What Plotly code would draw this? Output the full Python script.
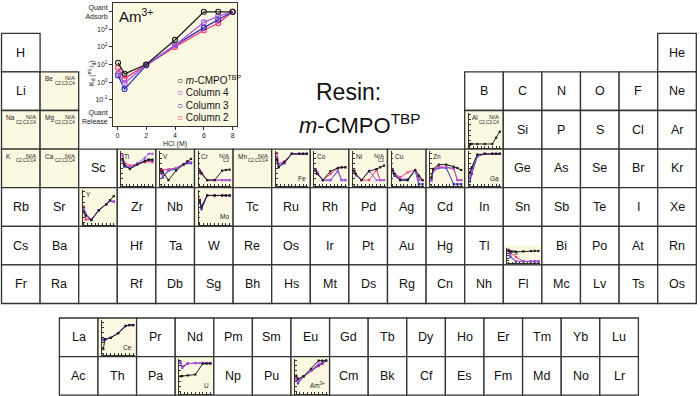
import plotly.graph_objects as go

W, H = 700, 396
FONT = "Liberation Sans, Arial, sans-serif"
BEIGE = "#fcf9e3"
EDGE = "#333333"

# periodic table, "" = no cell, "_" = empty framed cell
PERIODS = [
    ["H"] + [""] * 16 + ["He"],
    ["Li", "Be"] + [""] * 10 + ["B", "C", "N", "O", "F", "Ne"],
    ["Na", "Mg"] + [""] * 10 + ["Al", "Si", "P", "S", "Cl", "Ar"],
    ["K", "Ca", "Sc", "Ti", "V", "Cr", "Mn", "Fe", "Co", "Ni", "Cu", "Zn", "Ga", "Ge", "As", "Se", "Br", "Kr"],
    ["Rb", "Sr", "Y", "Zr", "Nb", "Mo", "Tc", "Ru", "Rh", "Pd", "Ag", "Cd", "In", "Sn", "Sb", "Te", "I", "Xe"],
    ["Cs", "Ba", "_", "Hf", "Ta", "W", "Re", "Os", "Ir", "Pt", "Au", "Hg", "Tl", "Pb", "Bi", "Po", "At", "Rn"],
    ["Fr", "Ra", "_", "Rf", "Db", "Sg", "Bh", "Hs", "Mt", "Ds", "Rg", "Cn", "Nh", "Fl", "Mc", "Lv", "Ts", "Os"],
]
LANTHANIDES = ["La", "Ce", "Pr", "Nd", "Pm", "Sm", "Eu", "Gd", "Tb", "Dy", "Ho", "Er", "Tm", "Yb", "Lu"]
ACTINIDES = ["Ac", "Th", "Pa", "U", "Np", "Pu", "Am", "Cm", "Bk", "Cf", "Es", "Fm", "Md", "No", "Lr"]

# HCl concentration (M)
HCL = [0.05, 0.5, 2, 4, 6, 7, 8]

# log10 Kd (mL/g); 4 = quantitative adsorption, -2 = quantitative release
AM = {"cmpo": [1.1, 0.47, 1.0, 2.4, 4.0, 4.0, 4.0],
      "c4": [0.47, -0.07, 0.98, 2.1, 3.4, 3.75, 4.0],
      "c3": [0.37, -0.4, 0.95, 2.1, 3.1, 3.55, 4.0],
      "c2": [0.8, 0.2, 0.98, 2.0, 2.95, 3.35, 4.0]}
AL = {"cmpo": [-1.7, -1.7, -1.7, -1.7, -1.7, -0.5, 0.7]}
TI = {"cmpo": [2.89, 1.78, 0.93, 1.78, 2.43, 2.76, 2.76],
      "c4": [3.54, 1.91, 1.26, 2.04, 3.09, 3.87, 3.87],
      "c3": [2.57, 1.39, 1.13, 1.91, 2.57, 2.7, 2.57],
      "c2": [3.54, 2.24, 1.59, 1.91, 2.24, 2.43, 2.24]}
V = {"cmpo": [0.61, 0.28, -1.22, 0.61, 1.78, 2.43, 2.89],
     "c4": [0.09, -0.37, 0.74, 1.13, 1.78, 2.24, 2.24],
     "c3": [0.48, -0.7, 0.61, 0.93, 1.78, 2.04, 2.04],
     "c2": [0.93, 0.74, 0.87, 1.13, 1.91, 2.24, 2.24]}
CR = {"cmpo": [0.48, 0.09, -1.22, -1.22, 0.61, 0.74, 0.8],
      "c4": [0.74, -0.04, -1.22, -1.22, -1.22, -1.22, -1.22],
      "c2": [0.61, 0.28, -1.22, -1.22, -1.22, -1.22, -1.22]}
FE = {"cmpo": [2.89, 1.26, 2.24, 3.87, 3.87, 3.87, 3.87],
      "c4": [3.22, 1.78, 2.24, 3.87, 3.87, 3.87, 3.87],
      "c3": [2.57, 1.39, 2.04, 3.87, 3.87, 3.87, 3.87],
      "c2": [4.0, 1.91, 2.43, 3.87, 3.87, 3.87, 3.87]}
CO = {"cmpo": [0.61, -0.04, -1.22, 0.48, 1.13, 1.26, 1.26],
      "c4": [0.74, 0.28, -1.22, -1.22, 0.48, -1.22, -1.22],
      "c3": [0.61, 0.0, -1.22, -1.22, 0.61, -1.22, -1.22],
      "c2": [0.93, 0.2, -1.22, 0.0, 1.13, 1.26, 1.26]}
NI = {"cmpo": [0.61, -0.04, -1.22, 0.48, 0.93, 1.26, 1.59],
      "c4": [0.28, -0.37, -1.22, 0.61, -1.22, -1.22, -1.22],
      "c2": [0.61, -0.04, -1.22, -1.22, 0.74, -1.22, -1.22]}
CU = {"cmpo": [0.61, -0.04, -1.22, -1.22, 0.74, -0.37, -1.22],
      "c4": [0.74, -0.17, -1.02, -1.02, 0.61, -1.22, -1.22],
      "c3": [0.61, -0.37, -1.22, -1.22, 0.61, -2.0, -2.0],
      "c2": [0.93, 0.09, -0.7, 0.28, 0.74, -0.7, -1.22]}
ZN = {"cmpo": [-0.7, 0.93, 1.78, 1.78, 1.39, 1.13, 0.74],
      "c4": [-1.22, 0.61, 1.26, 1.26, 1.13, -1.22, -1.22],
      "c3": [-1.3, 0.48, 1.13, 1.13, -2.0, -2.0, -2.0],
      "c2": [-1.02, 0.74, 1.39, 1.26, 0.93, -1.22, -1.22]}
GA = {"cmpo": [0.28, 1.26, 3.74, 3.87, 3.87, 3.87, 3.87],
      "c4": [-0.7, 0.61, 3.54, 3.87, 3.87, 3.87, 3.87],
      "c3": [-1.48, -0.04, 3.35, 3.87, 3.87, 3.87, 3.87],
      "c2": [-0.37, 0.93, 3.61, 3.87, 3.87, 3.87, 3.87]}
Y = {"cmpo": [0.05, -0.61, -1.5, 0.42, 1.6, 2.38, 3.16],
     "c4": [0.71, -0.19, -1.39, 0.42, 1.6, 2.2, 2.08],
     "c3": [0.53, -0.31, -1.39, 0.42, 1.6, 2.2, 2.08],
     "c2": [1.13, -1.39, -1.39, 0.42, 1.6, 2.2, 2.08]}
MO = {"cmpo": [2.32, 1.0, 3.28, 3.28, 3.28, 3.28, 3.28],
      "c4": [2.08, 1.19, 3.28, 3.28, 3.28, 3.28, 3.28],
      "c3": [1.9, 0.6, 3.28, 3.28, 3.28, 3.28, 3.28],
      "c2": [2.5, 1.1, 3.28, 3.28, 3.28, 3.28, 3.28]}
PB = {"cmpo": [3.5, 3.0, 2.8, 3.0, 3.2, 3.2, 3.2],
      "c4": [3.6, 1.0, -1.5, -1.5, -1.5, -1.5, -1.5],
      "c3": [3.4, 0.5, -1.5, -1.5, -1.5, -1.5, -1.5],
      "c2": [3.8, 2.5, 0.5, -1.5, -1.5, -1.5, -1.5]}
CE = {"cmpo": [-1.23, 0.69, 0.93, 1.86, 3.24, 3.42, 3.42],
      "c4": [0.8, 0.69, 0.93, 1.86, 3.24, 3.42, 3.42],
      "c3": [0.5, 0.65, 0.93, 1.86, 3.24, 3.42, 3.42],
      "c2": [0.69, 0.63, 0.93, 1.86, 3.24, 3.42, 3.42]}
U = {"cmpo": [0.97, 1.03, 1.14, 1.31, 3.43, 3.43, 3.43],
     "c4": [3.83, 2.57, 3.43, 3.54, 3.54, 3.54, 3.54],
     "c3": [3.6, 2.7, 3.43, 3.54, 3.54, 3.54, 3.54],
     "c2": [3.7, 2.86, 3.48, 3.54, 3.54, 3.54, 3.54]}

MINIS = {"Al": AL, "Ti": TI, "V": V, "Cr": CR, "Fe": FE, "Co": CO, "Ni": NI, "Cu": CU,
         "Zn": ZN, "Ga": GA, "Y": Y, "Mo": MO, "Pb": PB, "Ce": CE, "U": U, "Am": AM}
NA_NOTES = {"Be": "C2,C3,C4", "Na": "C2,C3,C4", "Mg": "C2,C3,C4", "K": "C2,C3,C4",
            "Ca": "C2,C3,C4", "Mn": "C2,C3,C4", "Al": "C2,C3,C4", "Cr": "C3", "Ni": "C3"}
LABEL_BOTTOM = ["Fe", "Ga", "Mo", "Ce", "U", "Am"]

SERIES_NAMES = {"cmpo": "<i>m</i>-CMPO<sup>TBP</sup>", "c4": "Column 4", "c3": "Column 3", "c2": "Column 2"}
COLORS = {"cmpo": "#1c1c1c", "c4": "#a65ae0", "c3": "#2e2eb8", "c2": "#f2337a"}

# grid geometry (px)
X0, CW = 1.5, 38.6
Y0, CH = 33.3, 38.6
LY0 = 318.0
PB_DROP = 22  # the Pb inset only fills the lower part of its cell


def px(x):
    return x / W


def py(y):
    return 1 - y / H


def note(text, x, y, size, **kw):
    d = dict(text=text, x=px(x), y=py(y), xref="paper", yref="paper", showarrow=False,
             xanchor="center", yanchor="middle",
             font=dict(size=size, family=FONT, color=kw.pop("color", "#222")))
    d.update(kw)
    return d


def rect(x0, y0, x1, y1, fill, width):
    return dict(type="rect", xref="paper", yref="paper", x0=px(x0), x1=px(x1), y0=py(y1), y1=py(y0),
                fillcolor=fill, line=dict(color=EDGE, width=width), layer="below")


def cell_boxes():
    boxes = []
    for r, row in enumerate(PERIODS):
        for c, sym in enumerate(row):
            if sym:
                boxes.append((sym, X0 + c * CW, Y0 + r * CH))
    for r, row in enumerate([LANTHANIDES, ACTINIDES]):
        for i, sym in enumerate(row):
            boxes.append((sym, X0 + (1.5 + i) * CW, LY0 + r * CH))
    return boxes


fig = go.Figure()
shapes, annotations, axes = [], [], {}
boxes = cell_boxes()
special = set(MINIS) | set(NA_NOTES)
n_axis = [0]


def new_axes(x0, y0, x1, y1, big=False):
    n_axis[0] += 1
    n = n_axis[0]
    suf = "" if n == 1 else str(n)
    common = dict(showgrid=False, zeroline=False, showline=True, linecolor=EDGE,
                  tickcolor=EDGE, fixedrange=True)
    tf = dict(size=7, family=FONT, color="#222")
    if big:
        axes["xaxis" + suf] = dict(domain=[px(x0), px(x1)], anchor="y" + suf, range=[-0.3, 8.3],
                                   tickvals=[0, 2, 4, 6, 8], ticks="outside", ticklen=3, linewidth=1,
                                   mirror=True, tickfont=tf,
                                   title=dict(text="HCl (M)", font=tf, standoff=2), **common)
        axes["yaxis" + suf] = dict(domain=[py(y1), py(y0)], anchor="x" + suf, range=[-2.5, 4.5],
                                   tickvals=[-2, -1, 0, 1, 2, 3, 4],
                                   ticktext=["Quant<br>Release", "10<sup>-1</sup>", "10<sup>0</sup>",
                                             "10<sup>1</sup>", "10<sup>2</sup>", "10<sup>3</sup>",
                                             "Quant<br>Adsorb"],
                                   ticks="outside", ticklen=3, linewidth=1, mirror=True,
                                   tickfont=tf, **common)
    else:
        axes["xaxis" + suf] = dict(domain=[px(x0), px(x1)], anchor="y" + suf, range=[-0.3, 8.4],
                                   dtick=1, ticks="inside", ticklen=2, tickwidth=0.6, linewidth=0.8,
                                   showticklabels=False, **common)
        axes["yaxis" + suf] = dict(domain=[py(y1), py(y0)], anchor="x" + suf, range=[-2.4, 4.4],
                                   dtick=1, ticks="inside", ticklen=2, tickwidth=0.6, linewidth=0.8,
                                   showticklabels=False, **common)
    return "x" + suf, "y" + suf


def add_series(data, xr, yr, big=False):
    for key in ["c2", "c3", "c4", "cmpo"]:
        if key not in data:
            continue
        fig.add_trace(go.Scatter(
            x=HCL, y=data[key], xaxis=xr, yaxis=yr, mode="lines+markers",
            line=dict(color=COLORS[key], width=1.3 if big else 1.0),
            marker=dict(symbol="circle-open", size=5, line=dict(width=1.1, color=COLORS[key]))
            if big else dict(symbol="square", size=2.2, color=COLORS[key]),
            showlegend=False, hoverinfo="skip", cliponaxis=False))


# big Am(III) panel
BX0, BY0, BX1, BY1 = 113, 3, 237, 126
shapes.append(dict(type="rect", xref="paper", yref="paper", x0=px(BX0), x1=px(BX1), y0=py(BY1), y1=py(BY0),
                   fillcolor=BEIGE, line=dict(width=0), layer="below"))
xr, yr = new_axes(BX0, BY0, BX1, BY1, big=True)
add_series(AM, xr, yr, big=True)
annotations.append(note("Am<sup>3+</sup>", BX0 + 4, BY0 + 1, 15, color="#111",
                        xanchor="left", yanchor="top"))
annotations.append(note("K<sub>d</sub> (<sup>mL</sup>/<sub>g</sub>)", 91, 73, 7, textangle=-90))
for i, key in enumerate(["cmpo", "c4", "c3", "c2"]):
    annotations.append(note(f'<span style="color:{COLORS[key]}">○</span> ' + SERIES_NAMES[key],
                            175, 80 + i * 12.5, 10, color="#111", xanchor="left"))

# table cells
for sym, x0, y0 in boxes:
    x1, y1 = x0 + CW, y0 + CH
    fill = BEIGE if sym in special and sym != "Pb" else "white"
    shapes.append(rect(x0, y0, x1, y1, fill, 1.3))
    if sym == "_":
        continue
    if sym not in special:
        annotations.append(note(sym, x0 + CW / 2, y0 + CH / 2, 12.5, color="#111"))
        continue
    label = "Am<sup>3+</sup>" if sym == "Am" else sym
    top = y0
    if sym in MINIS:
        ptop = y0 + 2
        if sym == "Pb":
            top = y0 + PB_DROP - 3
            ptop = y0 + PB_DROP
            shapes.append(rect(x0 + 1, top, x1 - 1, y1 - 0.7, BEIGE, 0))
        xr, yr = new_axes(x0 + 4, ptop, x1 - 2, y1 - 1.5)
        add_series(MINIS[sym], xr, yr)
    if sym in LABEL_BOTTOM:
        annotations.append(note(label, x1 - 2.5, y1 - 4, 6.5, xanchor="right", yanchor="bottom"))
    else:
        lx = x0 + (5 if sym in MINIS else 2.5)
        annotations.append(note(label, lx, top + 1.5, 6.5, xanchor="left", yanchor="top"))
    if sym in NA_NOTES:
        annotations.append(note("N/A", x1 - 2, y0 + 1.5, 6, xanchor="right", yanchor="top"))
        annotations.append(note(NA_NOTES[sym], x1 - 2, y0 + 7, 4.5, xanchor="right", yanchor="top"))

# title
annotations.append(note("Resin:", 348, 92, 23, color="#111"))
annotations.append(note("<i>m</i>-CMPO<sup>TBP</sup>", 360, 124, 22, color="#111"))

fig.update_layout(width=W, height=H, autosize=False, margin=dict(l=0, r=0, t=0, b=0),
                  paper_bgcolor="white", plot_bgcolor="rgba(0,0,0,0)", showlegend=False,
                  shapes=shapes, annotations=annotations, **axes)
# drop the browser's default page margin so the figure sits at the window's corner
fig.write_html("out.html", config={"displayModeBar": False},
               post_script="document.body.style.margin = '0px';")
